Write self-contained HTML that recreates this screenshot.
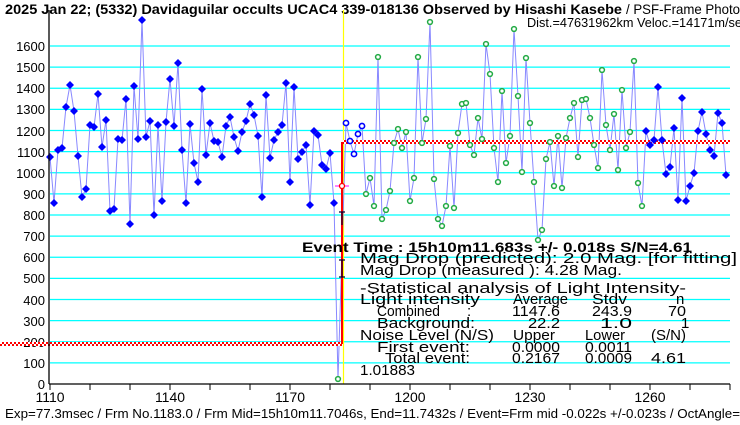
<!DOCTYPE html>
<html><head><meta charset="utf-8"><style>html,body{margin:0;padding:0;background:#fff;}svg{display:block}</style></head>
<body>
<svg width="740" height="425" xmlns="http://www.w3.org/2000/svg" xmlns:xlink="http://www.w3.org/1999/xlink" font-family="Liberation Sans, sans-serif">
<defs>
<pattern id="chk" width="4" height="4" patternUnits="userSpaceOnUse"><rect width="4" height="4" fill="#fff"/><rect width="2" height="2" fill="#f00"/><rect x="2" y="2" width="2" height="2" fill="#f00"/></pattern>
<path id="d" d="M0 -4L4 0L0 4L-4 0Z" fill="#0000ff"/>
<circle id="g" r="2.4" fill="#fff" stroke="#22aa44" stroke-width="1.5"/>
<circle id="o" r="2.6" fill="#fff" stroke="#0000ff" stroke-width="1.6"/>
</defs>
<rect width="740" height="425" fill="#fff"/>
<g stroke="#00ffff" stroke-width="1.3">
<line x1="50" y1="362.9" x2="730" y2="362.9"/><line x1="50" y1="341.75" x2="730" y2="341.75"/><line x1="50" y1="320.6" x2="730" y2="320.6"/><line x1="50" y1="299.5" x2="730" y2="299.5"/><line x1="50" y1="278.4" x2="730" y2="278.4"/><line x1="50" y1="257.25" x2="730" y2="257.25"/><line x1="50" y1="236.1" x2="730" y2="236.1"/><line x1="50" y1="215" x2="730" y2="215"/><line x1="50" y1="193.9" x2="730" y2="193.9"/><line x1="50" y1="172.75" x2="730" y2="172.75"/><line x1="50" y1="151.6" x2="730" y2="151.6"/><line x1="50" y1="130.5" x2="730" y2="130.5"/><line x1="50" y1="109.4" x2="730" y2="109.4"/><line x1="50" y1="88.25" x2="730" y2="88.25"/><line x1="50" y1="67.1" x2="730" y2="67.1"/><line x1="50" y1="46" x2="730" y2="46"/>
</g>
<text x="5" y="14" font-size="14" font-weight="bold" textLength="617" lengthAdjust="spacingAndGlyphs">2025 Jan 22; (5332) Davidaguilar occults UCAC4 339-018136 Observed by Hisashi Kasebe</text>
<text x="626" y="14" font-size="14" textLength="114" lengthAdjust="spacingAndGlyphs">/ PSF-Frame Photo</text>
<text x="527" y="27" font-size="13" textLength="215" lengthAdjust="spacingAndGlyphs">Dist.=47631962km Veloc.=14171m/se</text>
<line x1="343.5" y1="10" x2="343.5" y2="384" stroke="#ffff00" stroke-width="1.2"/>
<g font-size="13" text-anchor="end">
<text x="45" y="389">0</text><text x="45" y="368">100</text><text x="45" y="347">200</text><text x="45" y="326">300</text><text x="45" y="305">400</text><text x="45" y="283">500</text><text x="45" y="262">600</text><text x="45" y="241">700</text><text x="45" y="220">800</text><text x="45" y="199">900</text><text x="45" y="178">1000</text><text x="45" y="157">1100</text><text x="45" y="136">1200</text><text x="45" y="114">1300</text><text x="45" y="93">1400</text><text x="45" y="72">1500</text><text x="45" y="51">1600</text>
</g>
<polyline fill="none" stroke="#8888ff" stroke-width="1" points="50,157 54,203 58,150 62,148 66,107 70,85 74,111 78,156 82,197 86,189 90,125 94,127 98,94 102,147 106,120 110,211 114,209 118,139 122,140 126,99 130,224 134,86 138,139 142,20 146,137 150,121 154,215 158,125 162,201 166,122 170,79 174,126 178,63 182,150 186,203 190,124 194,163 198,182 202,89 206,155 210,123 214,141 218,142 222,157 226,126 230,117 234,137 238,151 242,132 246,121 250,104 254,115 258,136 262,197 266,95 270,158 274,140 278,132 282,125 286,83 290,182 294,87 298,159 302,152 306,145 310,205 314,131 318,135 322,165 326,169 330,153 334,203 338,379 346,123 350,141 354,154 358,134 362,126 366,194 370,178 374,206 378,57 382,219 386,210 390,191 394,143 398,129 402,148 406,132 410,201 414,178 418,57 422,143 426,119 430,22 434,179 438,219 442,226 446,206 450,146 454,208 458,133 462,104 466,103 470,145 474,155 478,118 482,139 486,44 490,74 494,148 498,182 502,91 506,163 510,136 514,29 518,96 522,172 526,58 530,123 534,182 538,240 542,230 546,159 550,142 554,186 558,136 562,188 566,138 570,118 574,103 578,157 582,100 586,99 590,118 594,145 598,168 602,70 606,125 610,150 614,114 618,170 622,90 626,148 630,132 634,61 638,183 642,206 646,131 650,145 654,140 658,87 662,140 666,174 670,167 674,128 678,200 682,98 686,201 690,186 694,173 698,131 702,112 706,134 710,150 714,156 718,113 722,123 726,175"/>
<rect x="0" y="342" width="342" height="4" fill="url(#chk)"/>
<rect x="343" y="140" width="387" height="4" fill="url(#chk)"/>
<line x1="342" y1="344" x2="342" y2="142" stroke="#f00" stroke-width="2"/>
<line x1="335" y1="186" x2="349" y2="186" stroke="#ff00ff" stroke-width="1"/>
<circle cx="342" cy="186" r="2.5" fill="#fff" stroke="#f00" stroke-width="1.3"/>
<path d="M339 212h6M342 212v13M339 260h6M342 260v17M339 277h6" stroke="#000033" stroke-width="1.2" fill="none"/>
<g>
<use xlink:href="#d" x="50" y="157"/><use xlink:href="#d" x="54" y="203"/><use xlink:href="#d" x="58" y="150"/><use xlink:href="#d" x="62" y="148"/><use xlink:href="#d" x="66" y="107"/><use xlink:href="#d" x="70" y="85"/><use xlink:href="#d" x="74" y="111"/><use xlink:href="#d" x="78" y="156"/><use xlink:href="#d" x="82" y="197"/><use xlink:href="#d" x="86" y="189"/><use xlink:href="#d" x="90" y="125"/><use xlink:href="#d" x="94" y="127"/><use xlink:href="#d" x="98" y="94"/><use xlink:href="#d" x="102" y="147"/><use xlink:href="#d" x="106" y="120"/><use xlink:href="#d" x="110" y="211"/><use xlink:href="#d" x="114" y="209"/><use xlink:href="#d" x="118" y="139"/><use xlink:href="#d" x="122" y="140"/><use xlink:href="#d" x="126" y="99"/><use xlink:href="#d" x="130" y="224"/><use xlink:href="#d" x="134" y="86"/><use xlink:href="#d" x="138" y="139"/><use xlink:href="#d" x="142" y="20"/><use xlink:href="#d" x="146" y="137"/><use xlink:href="#d" x="150" y="121"/><use xlink:href="#d" x="154" y="215"/><use xlink:href="#d" x="158" y="125"/><use xlink:href="#d" x="162" y="201"/><use xlink:href="#d" x="166" y="122"/><use xlink:href="#d" x="170" y="79"/><use xlink:href="#d" x="174" y="126"/><use xlink:href="#d" x="178" y="63"/><use xlink:href="#d" x="182" y="150"/><use xlink:href="#d" x="186" y="203"/><use xlink:href="#d" x="190" y="124"/><use xlink:href="#d" x="194" y="163"/><use xlink:href="#d" x="198" y="182"/><use xlink:href="#d" x="202" y="89"/><use xlink:href="#d" x="206" y="155"/><use xlink:href="#d" x="210" y="123"/><use xlink:href="#d" x="214" y="141"/><use xlink:href="#d" x="218" y="142"/><use xlink:href="#d" x="222" y="157"/><use xlink:href="#d" x="226" y="126"/><use xlink:href="#d" x="230" y="117"/><use xlink:href="#d" x="234" y="137"/><use xlink:href="#d" x="238" y="151"/><use xlink:href="#d" x="242" y="132"/><use xlink:href="#d" x="246" y="121"/><use xlink:href="#d" x="250" y="104"/><use xlink:href="#d" x="254" y="115"/><use xlink:href="#d" x="258" y="136"/><use xlink:href="#d" x="262" y="197"/><use xlink:href="#d" x="266" y="95"/><use xlink:href="#d" x="270" y="158"/><use xlink:href="#d" x="274" y="140"/><use xlink:href="#d" x="278" y="132"/><use xlink:href="#d" x="282" y="125"/><use xlink:href="#d" x="286" y="83"/><use xlink:href="#d" x="290" y="182"/><use xlink:href="#d" x="294" y="87"/><use xlink:href="#d" x="298" y="159"/><use xlink:href="#d" x="302" y="152"/><use xlink:href="#d" x="306" y="145"/><use xlink:href="#d" x="310" y="205"/><use xlink:href="#d" x="314" y="131"/><use xlink:href="#d" x="318" y="135"/><use xlink:href="#d" x="322" y="165"/><use xlink:href="#d" x="326" y="169"/><use xlink:href="#d" x="330" y="153"/><use xlink:href="#d" x="334" y="203"/>
<use xlink:href="#g" x="338" y="379"/>
<use xlink:href="#o" x="346" y="123"/><use xlink:href="#o" x="350" y="141"/><use xlink:href="#o" x="354" y="154"/><use xlink:href="#o" x="358" y="134"/><use xlink:href="#o" x="362" y="126"/>
<use xlink:href="#g" x="366" y="194"/><use xlink:href="#g" x="370" y="178"/><use xlink:href="#g" x="374" y="206"/><use xlink:href="#g" x="378" y="57"/><use xlink:href="#g" x="382" y="219"/><use xlink:href="#g" x="386" y="210"/><use xlink:href="#g" x="390" y="191"/><use xlink:href="#g" x="394" y="143"/><use xlink:href="#g" x="398" y="129"/><use xlink:href="#g" x="402" y="148"/><use xlink:href="#g" x="406" y="132"/><use xlink:href="#g" x="410" y="201"/><use xlink:href="#g" x="414" y="178"/><use xlink:href="#g" x="418" y="57"/><use xlink:href="#g" x="422" y="143"/><use xlink:href="#g" x="426" y="119"/><use xlink:href="#g" x="430" y="22"/><use xlink:href="#g" x="434" y="179"/><use xlink:href="#g" x="438" y="219"/><use xlink:href="#g" x="442" y="226"/><use xlink:href="#g" x="446" y="206"/><use xlink:href="#g" x="450" y="146"/><use xlink:href="#g" x="454" y="208"/><use xlink:href="#g" x="458" y="133"/><use xlink:href="#g" x="462" y="104"/><use xlink:href="#g" x="466" y="103"/><use xlink:href="#g" x="470" y="145"/><use xlink:href="#g" x="474" y="155"/><use xlink:href="#g" x="478" y="118"/><use xlink:href="#g" x="482" y="139"/><use xlink:href="#g" x="486" y="44"/><use xlink:href="#g" x="490" y="74"/><use xlink:href="#g" x="494" y="148"/><use xlink:href="#g" x="498" y="182"/><use xlink:href="#g" x="502" y="91"/><use xlink:href="#g" x="506" y="163"/><use xlink:href="#g" x="510" y="136"/><use xlink:href="#g" x="514" y="29"/><use xlink:href="#g" x="518" y="96"/><use xlink:href="#g" x="522" y="172"/><use xlink:href="#g" x="526" y="58"/><use xlink:href="#g" x="530" y="123"/><use xlink:href="#g" x="534" y="182"/><use xlink:href="#g" x="538" y="240"/><use xlink:href="#g" x="542" y="230"/><use xlink:href="#g" x="546" y="159"/><use xlink:href="#g" x="550" y="142"/><use xlink:href="#g" x="554" y="186"/><use xlink:href="#g" x="558" y="136"/><use xlink:href="#g" x="562" y="188"/><use xlink:href="#g" x="566" y="138"/><use xlink:href="#g" x="570" y="118"/><use xlink:href="#g" x="574" y="103"/><use xlink:href="#g" x="578" y="157"/><use xlink:href="#g" x="582" y="100"/><use xlink:href="#g" x="586" y="99"/><use xlink:href="#g" x="590" y="118"/><use xlink:href="#g" x="594" y="145"/><use xlink:href="#g" x="598" y="168"/><use xlink:href="#g" x="602" y="70"/><use xlink:href="#g" x="606" y="125"/><use xlink:href="#g" x="610" y="150"/><use xlink:href="#g" x="614" y="114"/><use xlink:href="#g" x="618" y="170"/><use xlink:href="#g" x="622" y="90"/><use xlink:href="#g" x="626" y="148"/><use xlink:href="#g" x="630" y="132"/><use xlink:href="#g" x="634" y="61"/><use xlink:href="#g" x="638" y="183"/><use xlink:href="#g" x="642" y="206"/>
<use xlink:href="#d" x="646" y="131"/><use xlink:href="#d" x="650" y="145"/><use xlink:href="#d" x="654" y="140"/><use xlink:href="#d" x="658" y="87"/><use xlink:href="#d" x="662" y="140"/><use xlink:href="#d" x="666" y="174"/><use xlink:href="#d" x="670" y="167"/><use xlink:href="#d" x="674" y="128"/><use xlink:href="#d" x="678" y="200"/><use xlink:href="#d" x="682" y="98"/><use xlink:href="#d" x="686" y="201"/><use xlink:href="#d" x="690" y="186"/><use xlink:href="#d" x="694" y="173"/><use xlink:href="#d" x="698" y="131"/><use xlink:href="#d" x="702" y="112"/><use xlink:href="#d" x="706" y="134"/><use xlink:href="#d" x="710" y="150"/><use xlink:href="#d" x="714" y="156"/><use xlink:href="#d" x="718" y="113"/><use xlink:href="#d" x="722" y="123"/><use xlink:href="#d" x="726" y="175"/>
</g>
<line x1="49" y1="10" x2="49" y2="384" stroke="#000" stroke-width="1.3"/>
<line x1="49" y1="384" x2="730" y2="384" stroke="#000" stroke-width="1.3"/>
<path stroke="#000" d="M50 384v6M90 384v6M130 384v6M170 384v6M210 384v6M250 384v6M290 384v6M330 384v6M370 384v6M410 384v6M450 384v6M490 384v6M530 384v6M570 384v6M610 384v6M650 384v6M690 384v6M730 384v6"/>
<g font-size="14" text-anchor="middle">
<text x="50" y="402">1110</text><text x="170" y="402">1140</text><text x="290" y="402">1170</text><text x="410" y="402">1200</text><text x="530" y="402">1230</text><text x="650" y="402">1260</text>
</g>
<text x="302" y="252" font-size="14" font-weight="bold" textLength="390" lengthAdjust="spacingAndGlyphs">Event Time : 15h10m11.683s  +/- 0.018s  S/N=4.61</text>
<g font-size="15">
<text x="360" y="263" textLength="377" lengthAdjust="spacingAndGlyphs">Mag Drop (predicted):  2.0   Mag. [for fitting]</text>
<text x="360" y="275" textLength="262" lengthAdjust="spacingAndGlyphs">Mag Drop (measured ):  4.28  Mag.</text>
<text x="360" y="293" textLength="326" lengthAdjust="spacingAndGlyphs">-Statistical analysis of Light Intensity-</text>
<text x="360" y="304" textLength="120" lengthAdjust="spacingAndGlyphs">Light intensity</text><text x="513" y="304" textLength="55" lengthAdjust="spacingAndGlyphs">Average</text><text x="592" y="304" textLength="35" lengthAdjust="spacingAndGlyphs">Stdv</text><text x="676" y="304">n</text>
<text x="377" y="316" textLength="63" lengthAdjust="spacingAndGlyphs">Combined</text><text x="467" y="316">:</text><text x="512" y="316" textLength="48" lengthAdjust="spacingAndGlyphs">1147.6</text><text x="592" y="316" textLength="40" lengthAdjust="spacingAndGlyphs">243.9</text><text x="668" y="316" textLength="18" lengthAdjust="spacingAndGlyphs">70</text>
<text x="377" y="328" textLength="98" lengthAdjust="spacingAndGlyphs">Background:</text><text x="528" y="328" textLength="32" lengthAdjust="spacingAndGlyphs">22.2</text><text x="600" y="328" textLength="32" lengthAdjust="spacingAndGlyphs">1.0</text><text x="681" y="328">1</text>
<text x="360" y="340" textLength="134" lengthAdjust="spacingAndGlyphs">Noise Level (N/S)</text><text x="513" y="340" textLength="42" lengthAdjust="spacingAndGlyphs">Upper</text><text x="585" y="340" textLength="40" lengthAdjust="spacingAndGlyphs">Lower</text><text x="651" y="340" textLength="35" lengthAdjust="spacingAndGlyphs">(S/N)</text>
<text x="377" y="352" textLength="93" lengthAdjust="spacingAndGlyphs">First event:</text><text x="512" y="352" textLength="48" lengthAdjust="spacingAndGlyphs">0.0000</text><text x="585" y="352" textLength="47" lengthAdjust="spacingAndGlyphs">0.0011</text>
<text x="385" y="363" textLength="85" lengthAdjust="spacingAndGlyphs">Total event:</text><text x="512" y="363" textLength="48" lengthAdjust="spacingAndGlyphs">0.2167</text><text x="585" y="363" textLength="47" lengthAdjust="spacingAndGlyphs">0.0009</text><text x="651" y="363" textLength="35" lengthAdjust="spacingAndGlyphs">4.61</text>
<text x="360" y="375" textLength="55" lengthAdjust="spacingAndGlyphs">1.01883</text>
</g>
<text x="5" y="418" font-size="13" textLength="735" lengthAdjust="spacingAndGlyphs">Exp=77.3msec / Frm No.1183.0 / Frm Mid=15h10m11.7046s,  End=11.7432s / Event=Frm mid -0.022s +/-0.023s / OctAngle=</text>
</svg>
</body></html>
